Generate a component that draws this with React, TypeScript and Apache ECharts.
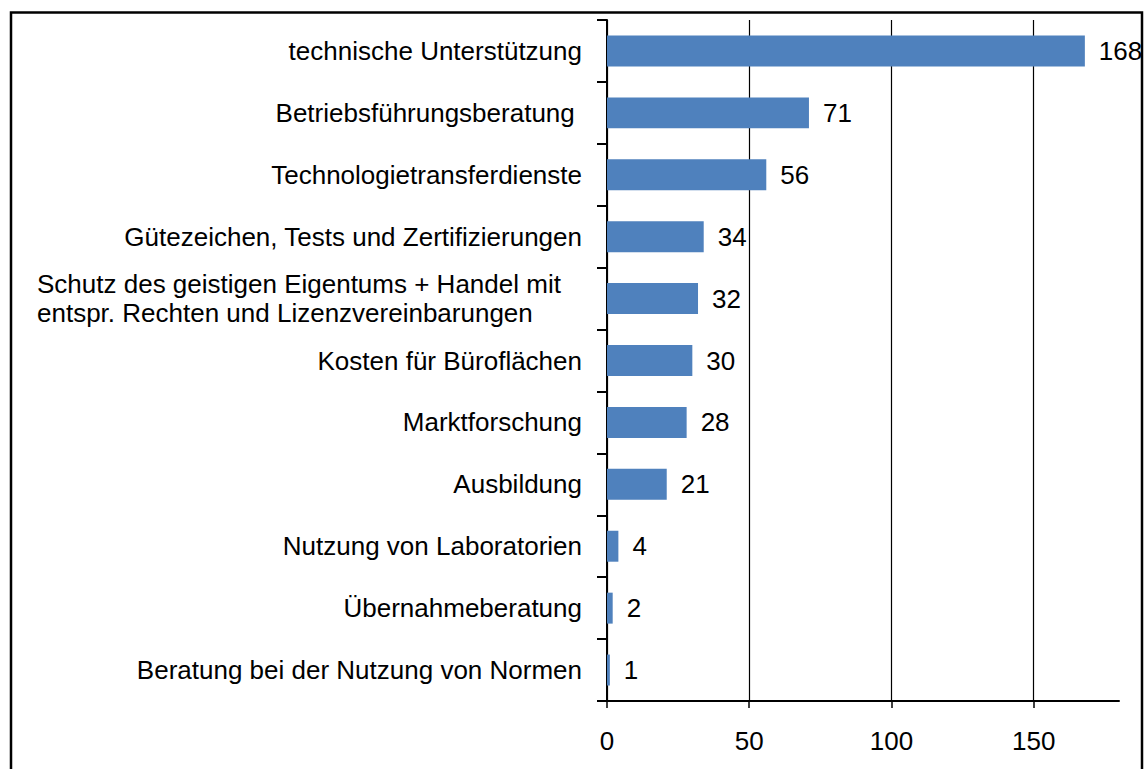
import React, { useEffect, useRef } from "react";
import * as echarts from "echarts";

const categories: string[] = [
  "technische Unterstützung",
  "Betriebsführungsberatung\u00a0",
  "Technologietransferdienste",
  "Gütezeichen, Tests und Zertifizierungen",
  "Schutz des geistigen Eigentums + Handel mit\nentspr. Rechten und Lizenzvereinbarungen",
  "Kosten für Büroflächen",
  "Marktforschung",
  "Ausbildung",
  "Nutzung von Laboratorien",
  "Übernahmeberatung",
  "Beratung bei der Nutzung von Normen",
];
const values: number[] = [168, 71, 56, 34, 32, 30, 28, 21, 4, 2, 1];
const xTicks: number[] = [0, 50, 100, 150];

const FONT = "'Liberation Sans', Arial, sans-serif";

export default function App() {
  const ref = useRef<HTMLDivElement>(null);
  useEffect(() => {
    if (!ref.current) return;
    const chart = echarts.init(ref.current, undefined, { renderer: "svg" });
    chart.setOption({
      animation: false,
      backgroundColor: "#ffffff",
      textStyle: { fontFamily: FONT },
      graphic: [
        {
          type: "rect",
          shape: { x: 11, y: 12.5, width: 1131, height: 800 },
          style: { fill: "none", stroke: "#000", lineWidth: 2.5 },
          silent: true,
        },
      ],
      grid: { left: 607, top: 20, right: 28, bottom: 68, containLabel: false },
      xAxis: {
        type: "value",
        min: 0,
        max: 180,
        interval: 50,
        axisLine: { show: true, lineStyle: { color: "#000", width: 2 } },
        axisTick: {
          show: true,
          length: 7,
          lineStyle: { color: "#000", width: 1.5 },
          customValues: xTicks,
        },
        axisLabel: {
          customValues: xTicks,
          color: "#000",
          fontSize: 26,
          fontFamily: FONT,
          margin: 27,
        },
        splitLine: {
          show: true,
          lineStyle: { color: "#000", width: 1.2 },
        },
      },
      yAxis: {
        type: "category",
        inverse: true,
        data: categories,
        axisLine: { show: true, lineStyle: { color: "#000", width: 2 } },
        axisTick: {
          show: true,
          length: 10,
          alignWithLabel: false,
          lineStyle: { color: "#000", width: 2 },
        },
        axisLabel: {
          color: "#000",
          fontSize: 26,
          fontFamily: FONT,
          margin: 25,
          formatter: (v: string) => {
            if (v.indexOf("\n") >= 0) {
              return v
                .split("\n")
                .map((s) => "{l|" + s + "}")
                .join("\n");
            }
            return v;
          },
          rich: {
            l: {
              width: 545,
              align: "left",
              fontSize: 26,
              lineHeight: 29,
              color: "#000",
              fontFamily: FONT,
            },
          },
        },
      },
      series: [
        {
          type: "bar",
          data: values,
          barCategoryGap: "50%",
          itemStyle: { color: "#4F81BD" },
          label: {
            show: true,
            position: "right",
            distance: 14,
            color: "#000",
            fontSize: 26,
            fontFamily: FONT,
          },
        },
      ],
    });
    return () => chart.dispose();
  }, []);
  return (
    <div
      ref={ref}
      style={{ position: "fixed", left: 0, top: 0, width: 1147, height: 769 }}
    />
  );
}
